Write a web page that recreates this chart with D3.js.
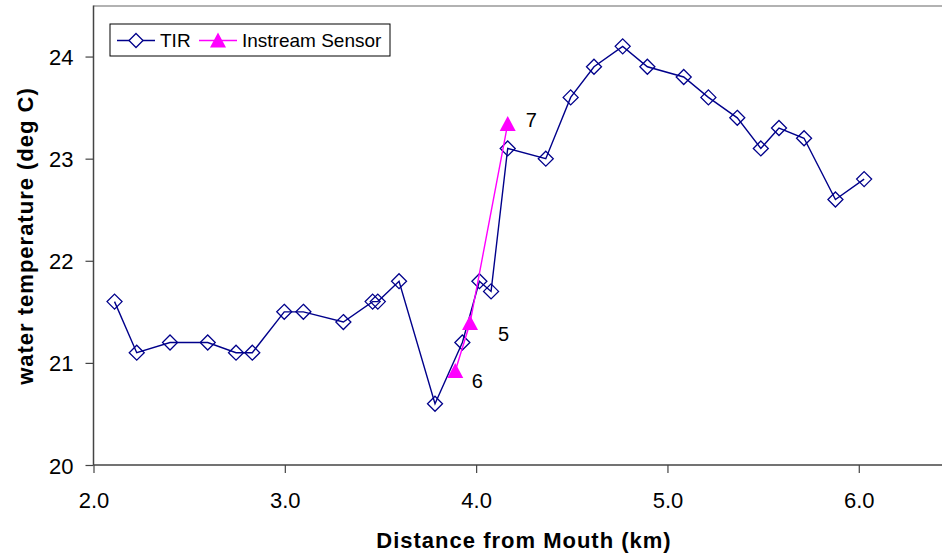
<!DOCTYPE html>
<html><head><meta charset="utf-8">
<script src="https://cdn.jsdelivr.net/npm/d3@7"></script>
<style>body{margin:0;background:#fff}svg{display:block}text{font-family:"Liberation Sans",Arial,sans-serif}</style>
</head><body>
<svg id="c" width="942" height="556"></svg>
<script>
const tirDist = [2.11,2.226,2.40,2.597,2.745,2.83,2.997,3.097,3.306,3.459,3.486,3.597,3.785,3.928,4.017,4.078,4.165,4.364,4.494,4.616,4.766,4.895,5.085,5.214,5.365,5.488,5.583,5.714,5.878,6.028];
const tirTemp = [21.6,21.1,21.2,21.2,21.1,21.1,21.5,21.5,21.4,21.6,21.6,21.8,20.6,21.2,21.8,21.7,23.1,23.0,23.6,23.9,24.1,23.9,23.8,23.6,23.4,23.1,23.3,23.2,22.6,22.8];
const sensorDist = [3.891,3.968,4.165];
const sensorTemp = [20.92,21.39,23.34];
const sensorLabels = ["6","5","7"];
const xTicks = [2,3,4,5,6];
const yTicks = [20,21,22,23,24];

const svg = d3.select("#c");
const x = d3.scaleLinear().domain([2,6.435]).range([93.5,942]);
const y = d3.scaleLinear().domain([20,24.5]).range([465,5.5]);

svg.append("line").attr("x1",93.5).attr("x2",942).attr("y1",6).attr("y2",6).attr("stroke","#999").attr("stroke-width",1.5);

const xa = svg.append("g").attr("transform","translate(0,465)")
  .call(d3.axisBottom(x).tickValues(xTicks).tickFormat(d3.format(".1f")).tickSize(8).tickSizeOuter(0));
const ya = svg.append("g").attr("transform","translate(93.5,0)")
  .call(d3.axisLeft(y).tickValues(yTicks).tickFormat(d3.format("d")).tickSize(8).tickSizeOuter(0));
[xa,ya].forEach(a=>{a.select(".domain").attr("stroke","#444").attr("stroke-width",1.5);
  a.selectAll(".tick line").attr("stroke","#444").attr("stroke-width",1.2);
  a.selectAll("text").attr("font-size",22).attr("fill","#000").attr("font-family","Liberation Sans, Arial, sans-serif");});
xa.selectAll("text").attr("dy",null).attr("y",42.5);
ya.selectAll("text").attr("dy",null).attr("x",-20).attr("y",8);
ya.select(".domain").attr("d","M0,5.5V465");
xa.select(".domain").attr("d","M93.5,0H942");

svg.append("text").attr("x",524).attr("y",547.5).attr("text-anchor","middle").attr("font-size",22).attr("font-weight","bold").attr("letter-spacing","1px").text("Distance from Mouth (km)");
svg.append("text").attr("transform","translate(33,236) rotate(-90)").attr("text-anchor","middle").attr("font-size",22).attr("font-weight","bold").attr("letter-spacing","1px").text("water temperature (deg C)");

const tir = tirDist.map((d,i)=>[d,tirTemp[i]]);
const sen = sensorDist.map((d,i)=>[d,sensorTemp[i]]);
const line = d3.line().x(d=>x(d[0])).y(d=>y(d[1]));
const navy = "#00008B", mag = "#FF00FF";
const diamond = (cx,cy,r)=>`M${cx},${cy-r}L${cx+r},${cy}L${cx},${cy+r}L${cx-r},${cy}Z`;
const tri = (cx,cy)=>`M${cx},${cy-8}L${cx+8},${cy+7}L${cx-8},${cy+7}Z`;

svg.append("path").attr("d",line(tir)).attr("fill","none").attr("stroke",navy).attr("stroke-width",1.4);
svg.selectAll(".dm").data(tir).join("path").attr("d",d=>diamond(x(d[0]),y(d[1]),7.5)).attr("fill","none").attr("stroke",navy).attr("stroke-width",1.3);

svg.append("path").attr("d",line(sen)).attr("fill","none").attr("stroke",mag).attr("stroke-width",1.4);
svg.selectAll(".tr").data(sen).join("path").attr("d",d=>tri(x(d[0]),y(d[1]))).attr("fill",mag);
const lblOff = [[16.5,16.7],[28,18.4],[18,3.3]];
sen.forEach((d,i)=>{
  svg.append("text").attr("x",x(d[0])+lblOff[i][0]).attr("y",y(d[1])+lblOff[i][1]).attr("font-size",20).text(sensorLabels[i]);
});

const lg = svg.append("g");
lg.append("rect").attr("x",110).attr("y",24).attr("width",280).attr("height",32).attr("fill","#fff").attr("stroke","#000").attr("stroke-width",1);
lg.append("line").attr("x1",117).attr("x2",155).attr("y1",40.5).attr("y2",40.5).attr("stroke",navy).attr("stroke-width",1.4);
lg.append("path").attr("d",diamond(136,40.5,7)).attr("fill","#fff").attr("stroke",navy).attr("stroke-width",1.3);
lg.append("text").attr("x",160).attr("y",47).attr("font-size",19).text("TIR");
lg.append("line").attr("x1",199).attr("x2",237).attr("y1",40.5).attr("y2",40.5).attr("stroke",mag).attr("stroke-width",1.4);
lg.append("path").attr("d",tri(218,40.5)).attr("fill",mag);
lg.append("text").attr("x",242).attr("y",47).attr("font-size",19).text("Instream Sensor");
</script>
</body></html>
